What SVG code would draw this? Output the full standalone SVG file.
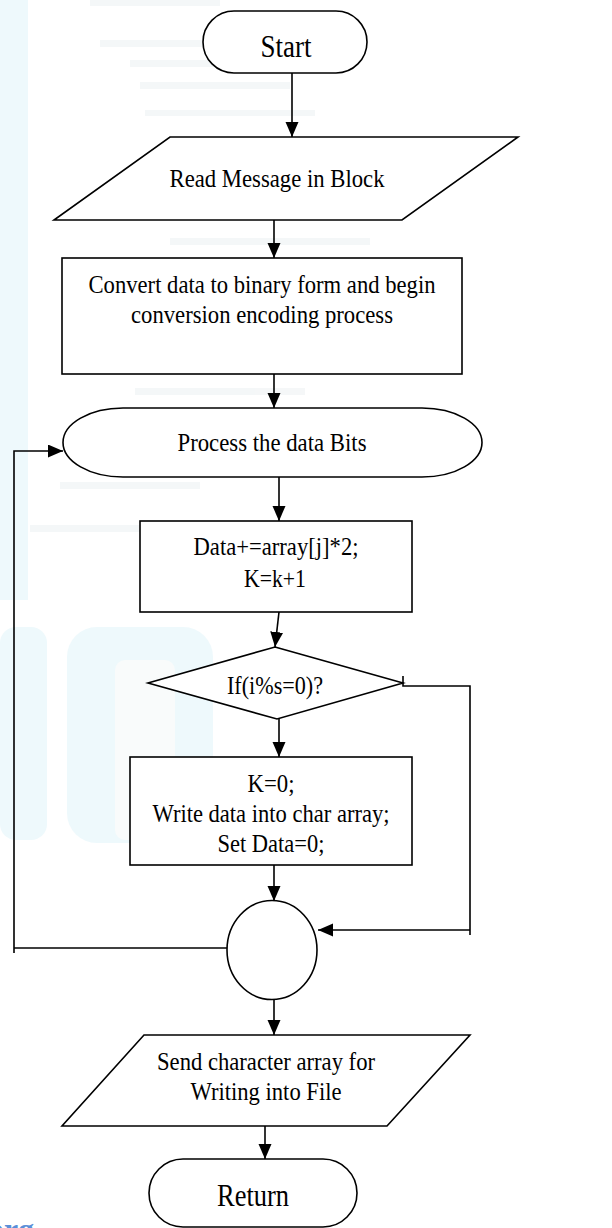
<svg xmlns="http://www.w3.org/2000/svg" width="612" height="1228" viewBox="0 0 612 1228">
<defs>
<marker id="ah" markerUnits="userSpaceOnUse" markerWidth="16" markerHeight="14" refX="15" refY="6.5" orient="auto">
<path d="M0,0 L15,6.5 L0,13 z" fill="#000"/>
</marker>
<style>
.s{fill:#fff;stroke:#000;stroke-width:1.6}
.c{fill:none;stroke:#000;stroke-width:1.6}
.t{font-family:"Liberation Serif","Times New Roman",serif;font-size:25px;fill:#000;text-anchor:middle}
.big{font-size:31px}
.wm{fill:#e3f6fb}
.st{fill:#eef2f4}
</style>
</defs>
<rect width="612" height="1228" fill="#fff"/>
<g id="watermark" opacity="0.6">
<rect class="wm" x="0" y="0" width="28" height="600"/>
<rect class="st" x="90" y="0" width="130" height="6"/>
<rect class="st" x="100" y="40" width="160" height="7"/>
<rect class="st" x="130" y="60" width="170" height="7"/>
<rect class="st" x="140" y="82" width="150" height="7"/>
<rect class="st" x="145" y="110" width="170" height="6"/>
<rect class="st" x="170" y="238" width="200" height="7"/>
<rect class="st" x="135" y="388" width="170" height="7"/>
<rect class="st" x="60" y="482" width="140" height="7"/>
<rect class="st" x="30" y="525" width="120" height="7"/>
<rect class="wm" x="0" y="627" width="47" height="213" rx="16"/>
<rect class="wm" x="67" y="627" width="146" height="216" rx="30"/>
<rect x="115" y="660" width="60" height="180" rx="10" fill="#f6f9fa"/>
</g>
<text x="-12" y="1240" font-family="Liberation Serif, serif" font-size="32" font-weight="bold" fill="#5b8fd8">org</text>
<g id="connectors">
<line class="c" x1="292" y1="73" x2="292" y2="137" marker-end="url(#ah)"/>
<line class="c" x1="274" y1="220" x2="274" y2="258" marker-end="url(#ah)"/>
<line class="c" x1="274" y1="374" x2="274" y2="408" marker-end="url(#ah)"/>
<line class="c" x1="279" y1="477" x2="279" y2="521" marker-end="url(#ah)"/>
<line class="c" x1="279" y1="612" x2="275" y2="647" marker-end="url(#ah)"/>
<line class="c" x1="279" y1="719" x2="279" y2="757" marker-end="url(#ah)"/>
<line class="c" x1="274" y1="865" x2="274" y2="901" marker-end="url(#ah)"/>
<line class="c" x1="274" y1="1000" x2="274" y2="1035" marker-end="url(#ah)"/>
<line class="c" x1="265" y1="1126" x2="265" y2="1159" marker-end="url(#ah)"/>
<polyline class="c" points="227,948 14,948"/>
<polyline class="c" points="14,953 14,451 63,451" marker-end="url(#ah)"/>
<polyline class="c" points="403,676 403,686 470,686 470,935"/>
<polyline class="c" points="470,930 318,930" marker-end="url(#ah)"/>
</g>
<g id="start">
<rect class="s" x="203" y="11" width="164" height="62" rx="31"/>
<text class="t big" x="286" y="57" textLength="51" lengthAdjust="spacingAndGlyphs">Start</text>
</g>
<g id="read">
<polygon class="s" points="170,137 518,137 402,220 54,220"/>
<text class="t" x="277" y="187" textLength="215" lengthAdjust="spacingAndGlyphs">Read Message in Block</text>
</g>
<g id="convert">
<rect class="s" x="62" y="258" width="400" height="116"/>
<text class="t" x="262" y="293" textLength="347" lengthAdjust="spacingAndGlyphs">Convert data to binary form and begin</text>
<text class="t" x="262" y="323" textLength="262" lengthAdjust="spacingAndGlyphs">conversion encoding process</text>
</g>
<g id="process">
<path class="s" d="M123,408 L422,408 A60,34.5 0 0 1 422,477 L123,477 A60,34.5 0 0 1 123,408 Z"/>
<text class="t" x="272" y="451" textLength="189" lengthAdjust="spacingAndGlyphs">Process the data Bits</text>
</g>
<g id="data">
<rect class="s" x="140" y="521" width="272" height="91"/>
<text class="t" x="276" y="555" textLength="165" lengthAdjust="spacingAndGlyphs">Data+=array[j]*2;</text>
<text class="t" x="275" y="587" textLength="62" lengthAdjust="spacingAndGlyphs">K=k+1</text>
</g>
<g id="decision">
<polygon class="s" points="275,647 403,683 277,719 148,683"/>
<text class="t" x="275" y="694" textLength="96" lengthAdjust="spacingAndGlyphs">If(i%s=0)?</text>
</g>
<g id="write">
<rect class="s" x="130" y="757" width="282" height="108"/>
<text class="t" x="271" y="792" textLength="47" lengthAdjust="spacingAndGlyphs">K=0;</text>
<text class="t" x="271" y="822" textLength="237" lengthAdjust="spacingAndGlyphs">Write data into char array;</text>
<text class="t" x="271" y="852" textLength="107" lengthAdjust="spacingAndGlyphs">Set Data=0;</text>
</g>
<g id="junction">
<ellipse class="s" cx="272" cy="950" rx="45" ry="49.5"/>
</g>
<g id="send">
<polygon class="s" points="144,1035 470,1035 387,1126 62,1126"/>
<text class="t" x="266" y="1070" textLength="218" lengthAdjust="spacingAndGlyphs">Send character array for</text>
<text class="t" x="266" y="1100" textLength="151" lengthAdjust="spacingAndGlyphs">Writing into File</text>
</g>
<g id="return">
<rect class="s" x="149" y="1159" width="208" height="68" rx="34"/>
<text class="t big" x="253" y="1206" textLength="72" lengthAdjust="spacingAndGlyphs">Return</text>
</g>
</svg>
